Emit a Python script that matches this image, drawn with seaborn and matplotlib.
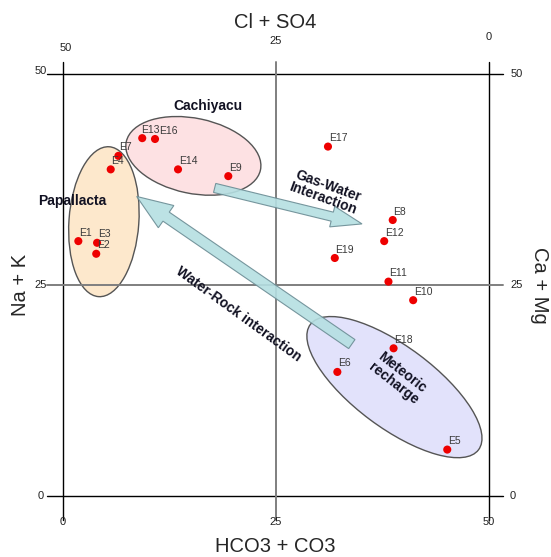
import matplotlib
matplotlib.use("Agg")
import matplotlib.pyplot as plt
from matplotlib.patches import Ellipse, FancyArrow
import seaborn as sns
import pandas as pd

# samples (HCO3+CO3 on x, Na+K on y)
samples = ["E1", "E2", "E3", "E4", "E5", "E6", "E7", "E8", "E9", "E10",
           "E11", "E12", "E13", "E14", "E16", "E17", "E18", "E19"]
hco3_co3 = [1.8, 3.9, 4.0, 5.6, 45.1, 32.2, 6.5, 38.7, 19.4, 41.1,
            38.2, 37.7, 9.3, 13.5, 10.8, 31.1, 38.8, 31.9]
na_k = [30.2, 28.7, 30.0, 38.7, 5.5, 14.7, 40.3, 32.7, 37.9, 23.2,
        25.4, 30.2, 42.4, 38.7, 42.3, 41.4, 17.5, 28.2]

tick_vals = [0, 25, 50]
top_ticks = ["50", "25", "0"]
right_ticks = ["0", "25", "50"]

df = pd.DataFrame({"sample": samples, "x": hco3_co3, "y": na_k})

sns.set_style("white")
plt.rcParams["font.family"] = ["Liberation Sans", "DejaVu Sans"]

fig = plt.figure(figsize=(5.51, 5.57), dpi=100)
ax = fig.add_axes([63 / 551, 61 / 557, 426 / 551, 422 / 557])
ax.set_xlim(0, 50)
ax.set_ylim(0, 50)
ax.axis("off")

# frame and middle lines, extended a little to act as ticks
ax.plot([0, 0], [-2.8, 51.4], color="black", lw=1, clip_on=False)
ax.plot([50, 50], [-2.8, 51.4], color="black", lw=1, clip_on=False)
ax.plot([-1.9, 51.6], [0, 0], color="black", lw=1, clip_on=False)
ax.plot([-1.9, 51.6], [50, 50], color="black", lw=1, clip_on=False)
ax.plot([25, 25], [-2.8, 51.4], color="#7f7f7f", lw=1.4, clip_on=False)
ax.plot([-1.9, 51.6], [25, 25], color="#7f7f7f", lw=1.4, clip_on=False)

# groups
ax.add_patch(Ellipse((4.8, 32.5), 8.2, 17.8, angle=-4, fc="#fde8cc", ec="#555555", lw=1, zorder=1))
ax.add_patch(Ellipse((15.3, 40.3), 16.1, 8.9, angle=-12, fc="#fde1e3", ec="#555555", lw=1, zorder=1))
ax.add_patch(Ellipse((38.9, 12.9), 24.7, 9.6, angle=-37, fc="#e2e2fb", ec="#555555", lw=1, zorder=1))

# arrows
ax.add_patch(FancyArrow(17.8, 36.5, 13.8, -3.4, width=1.1, head_width=2.5, head_length=3.6,
                        length_includes_head=False, fc="#b5dfe2", ec="#6b8c94", lw=0.8, alpha=0.9, zorder=2))
ax.add_patch(FancyArrow(33.9, 18.0, -21.8, 15.1, width=1.3, head_width=3.2, head_length=4.2,
                        length_includes_head=False, fc="#b5dfe2", ec="#6b8c94", lw=0.8, alpha=0.9, zorder=2))

sns.scatterplot(data=df, x="x", y="y", color="#ee0000", s=34, edgecolor="none", ax=ax, zorder=4, legend=False)
label_dx = {"E13": -1.0, "E16": 3.0}
for name, xv, yv in zip(samples, hco3_co3, na_k):
    ax.annotate(name, (xv, yv), xytext=(label_dx.get(name, 0.5), 2.5), textcoords="offset points",
                fontsize=7.5, color="#3a3a3a", ha="left", va="bottom", zorder=5)

bold = dict(fontsize=10, fontweight="bold", color="#111122", ha="center", va="center", zorder=6)
ax.text(17.0, 46.2, "Cachiyacu", **bold)
ax.text(1.1, 35.0, "Papallacta", clip_on=False, **bold)
ax.text(30.8, 36.0, "Gas-Water\nInteraction", rotation=-20, linespacing=1.0, **bold)
ax.text(20.6, 21.5, "Water-Rock interaction", rotation=-36, **bold)
ax.text(39.3, 14.0, "Meteoric\nrecharge", rotation=-38, linespacing=1.0, **bold)

# tick labels
tk = dict(fontsize=8, color="#222222", annotation_clip=False)
top_off = [19, 24, 27]
for v, lab, off in zip(tick_vals, top_ticks, top_off):
    ax.annotate(lab, (v, 50), xytext=(2 if v == 0 else 0, off), textcoords="offset points",
                ha="center", va="center", **tk)
for v in tick_vals:
    ax.annotate(str(v), (v, 0), xytext=(0, -19), textcoords="offset points",
                ha="center", va="center", **tk)
    ax.annotate(str(v), (0, v), xytext=(-16, 2 if v == 50 else 0), textcoords="offset points",
                ha="center", va="center", **tk)
for v, lab in zip(tick_vals, right_ticks):
    ax.annotate(lab, (50, v), xytext=(20 if lab != "0" else 17, 0), textcoords="offset points",
                ha="center", va="center", **tk)

fig.text(275 / 551, 1 - 22 / 557, "Cl + SO4", fontsize=14.5, ha="center", va="center")
fig.text(275 / 551, 1 - 546 / 557, "HCO3 + CO3", fontsize=14.5, ha="center", va="center")
fig.text(21 / 551, 1 - 285 / 557, "Na + K", fontsize=14.5, rotation=90, ha="center", va="center")
fig.text(540 / 551, 1 - 285 / 557, "Ca + Mg", fontsize=14.5, rotation=-90, ha="center", va="center")

fig.savefig("out.png", dpi=100, facecolor="white")
